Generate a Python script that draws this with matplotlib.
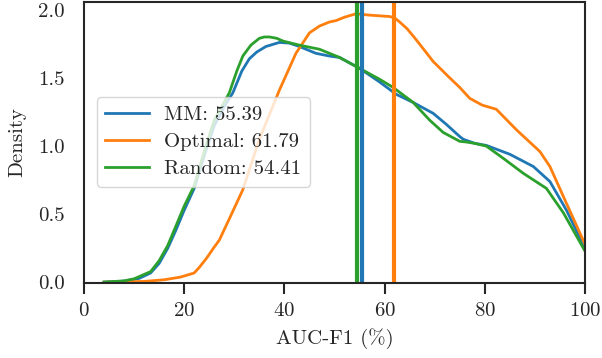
import numpy as np
import matplotlib
matplotlib.use("Agg")
import matplotlib.pyplot as plt

# KDE curves (x in %, density)
mm_x = [4, 8, 11, 13.3, 15, 16.7, 18.3, 20, 22, 24, 26, 28, 29.7, 31.5, 33, 34.5, 36.3, 39, 41, 43,
        46.3, 49, 51, 55, 59, 62.3, 65.7, 69.7, 72.3, 75, 75.7, 78, 80.3, 85, 89.7, 93, 96.3, 100]
mm_y = [0.003, 0.01, 0.03, 0.07, 0.14, 0.25, 0.38, 0.53, 0.69, 0.93, 1.15, 1.29, 1.39, 1.55, 1.64,
        1.69, 1.73, 1.76, 1.755, 1.73, 1.68, 1.66, 1.65, 1.57, 1.47, 1.38, 1.32, 1.24, 1.16, 1.07,
        1.05, 1.02, 1.005, 0.94, 0.85, 0.74, 0.53, 0.25]

opt_x = [4, 12, 16, 19.3, 22, 23, 24.5, 26, 27, 29.3, 31.7, 35, 39, 42.3, 45, 47, 49, 50.3, 52,
         54.3, 57, 59, 61, 62, 63, 64.5, 66.3, 69.7, 73, 75, 77, 79.5, 82.3, 86.3, 91, 93, 96.3, 100]
opt_y = [0.002, 0.008, 0.02, 0.04, 0.07, 0.11, 0.18, 0.26, 0.31, 0.49, 0.68, 1.05, 1.41, 1.68, 1.83,
         1.88, 1.91, 1.92, 1.945, 1.97, 1.96, 1.955, 1.95, 1.94, 1.91, 1.86, 1.78, 1.62, 1.50, 1.43,
         1.35, 1.30, 1.27, 1.12, 0.96, 0.85, 0.58, 0.28]

rnd_x = [4, 8, 10, 13.3, 15, 16.7, 18.3, 20, 22, 24, 26, 27.5, 29, 30.5, 31.7, 33.3, 35, 36, 37, 38.5,
         39.7, 43, 47, 51, 55, 59, 61.7, 65.7, 69, 71.7, 75, 76.3, 78, 80.3, 83.7, 87.7, 92.3, 95.7, 100]
rnd_y = [0.003, 0.012, 0.027, 0.08, 0.16, 0.27, 0.41, 0.56, 0.71, 0.96, 1.19, 1.29, 1.39, 1.55, 1.66,
         1.74, 1.79, 1.80, 1.80, 1.79, 1.77, 1.74, 1.71, 1.65, 1.57, 1.49, 1.43, 1.32, 1.19, 1.10,
         1.035, 1.03, 1.02, 1.00, 0.91, 0.80, 0.69, 0.51, 0.23]

names = ["MM", "Optimal", "Random"]
means = [55.39, 61.79, 54.41]
colors = ["#1f77b4", "#ff7f0e", "#2ca02c"]

plt.rcParams["font.family"] = "cmr10"
plt.rcParams["mathtext.fontset"] = "cm"
plt.rcParams["axes.formatter.use_mathtext"] = True
plt.rcParams["font.size"] = 15
dark = "0.15"
plt.rcParams["text.color"] = dark
plt.rcParams["axes.labelcolor"] = dark
plt.rcParams["xtick.color"] = dark
plt.rcParams["ytick.color"] = dark

fig = plt.figure(figsize=(6.02, 3.58), dpi=100)
ax = fig.add_axes([84 / 602, 1 - 282.5 / 358, 501 / 602, 281 / 358])

curves = [(mm_x, mm_y), (opt_x, opt_y), (rnd_x, rnd_y)]
for (x, y), name, m, c in zip(curves, names, means, colors):
    ax.plot(x, y, color=c, lw=2, solid_joinstyle="round", label=f"{name}: {m:.2f}")
for m, c in zip(means, colors):
    ax.axvline(m, color=c, lw=3)

ax.set_xlim(0, 100)
ax.set_ylim(0, 2.06)
ax.set_xticks([0, 20, 40, 60, 80, 100])
ax.set_yticks([0.0, 0.5, 1.0, 1.5, 2.0])
ax.set_yticklabels(["0.0", "0.5", "1.0", "1.5", "2.0"])
ax.set_xlabel("AUC-F1 (%)", labelpad=6)
ax.set_ylabel("Density", labelpad=8)
ax.tick_params(axis="x", length=8, width=1.5, pad=6)
ax.tick_params(axis="y", length=0, pad=14)
for s in ax.spines.values():
    s.set_linewidth(1.5)
    s.set_color(dark)

ax.legend(loc="center left", handlelength=2.1, handletextpad=0.75, labelspacing=0.4,
          borderaxespad=0.6, fancybox=True)

fig.savefig("out.png", dpi=100)
